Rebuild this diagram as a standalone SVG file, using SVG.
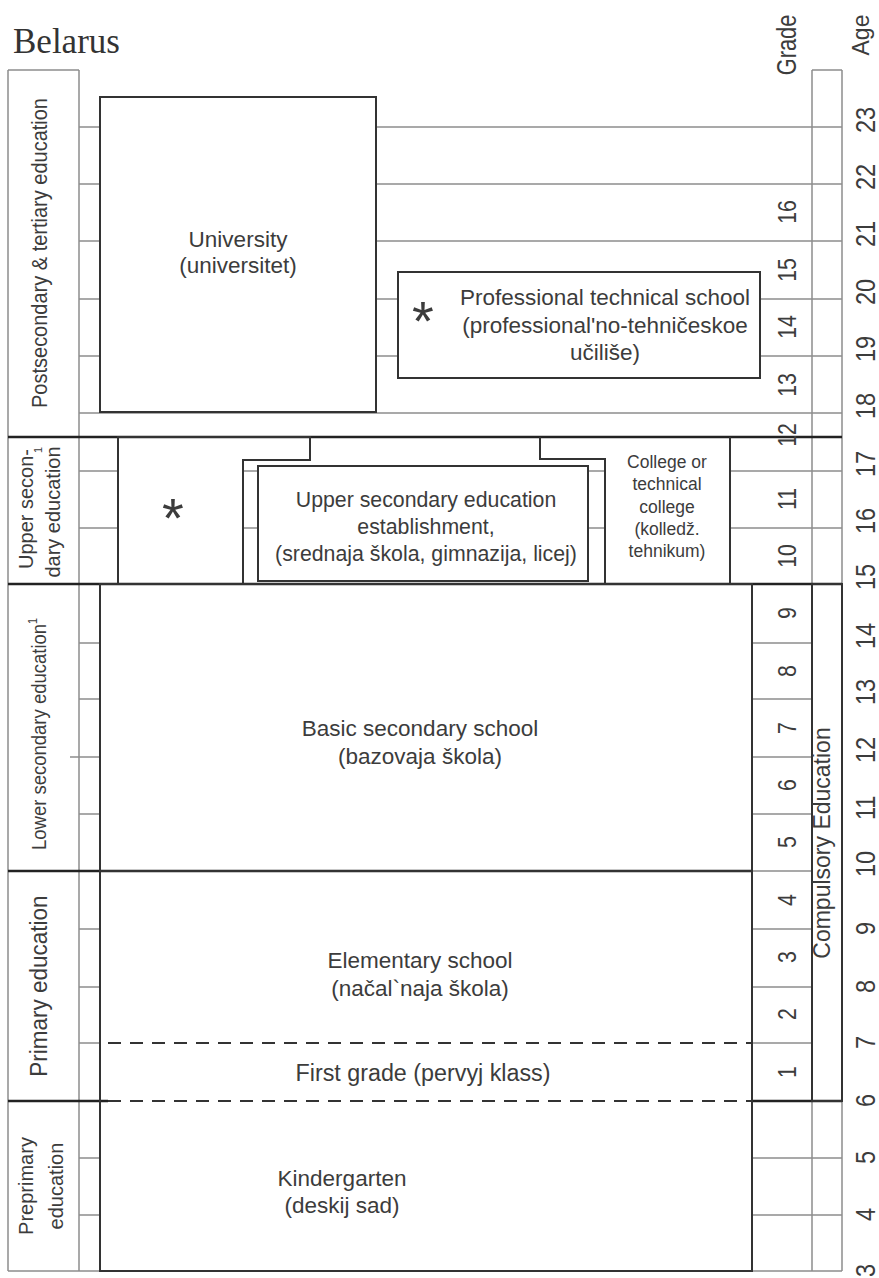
<svg xmlns="http://www.w3.org/2000/svg" width="879" height="1278" viewBox="0 0 879 1278">
  <style>
    .grid { stroke: #8d8d8d; stroke-width: 1.5; fill: none; }
    .box { stroke: #333; stroke-width: 2; fill: none; }
    .sep { stroke: #222; stroke-width: 2.5; fill: none; }
    .dash { stroke: #333; stroke-width: 2; stroke-dasharray: 13 9; fill: none; }
    text { font-family: "Liberation Sans", Arial, sans-serif; fill: #3c3c3c; }
    .main { font-size: 22.5px; text-anchor: middle; }
    .band { font-size: 20px; text-anchor: middle; }
    .grade { font-size: 26px; text-anchor: middle; }
    .age { font-size: 28px; }
    .star { font-size: 56px; text-anchor: middle; }
    .sup { font-size: 11px; }
  </style>
  <rect width="879" height="1278" fill="#fff"/>

  <!-- title -->
  <g id="title">
    <text x="13" y="53" style="font-family:'Liberation Serif','Times New Roman',serif;font-size:35px;fill:#333">Belarus</text>
  </g>

  <!-- year grid: frame columns, age lines and band separators -->
  <g id="connectors">
    <path class="grid" d="M8,70 V1271 M79,70 V1271 M8,70 H79 M8,1271 H100
                          M812,70 V1271 M842,70 V1271 M812,70 H842 M752,1271 H842"/>
    <path class="grid" d="
      M79,127 H100 M376,127 H842
      M79,184 H100 M376,184 H842
      M79,241 H100 M376,241 H842
      M79,299 H100 M376,299 H398 M760,299 H842
      M79,356 H100 M376,356 H398 M760,356 H842
      M79,413 H842
      M79,471 H118 M243,471 H258 M588,471 H605 M730,471 H842
      M79,528 H118 M243,528 H258 M588,528 H605 M730,528 H842
      M79,643 H100 M752,643 H812
      M79,699 H100 M752,699 H812
      M70,757 H100 M752,757 H812
      M79,814 H100 M752,814 H812
      M752,871 H812
      M79,929 H100 M752,929 H812
      M79,987 H100 M752,987 H812
      M79,1043 H100 M752,1043 H812
      M79,1158 H100 M752,1158 H842
      M79,1215 H100 M752,1215 H842"/>
    <path class="sep" d="M8,437 H842 M8,584 H842 M8,871 H752 M8,1101 H108 M752,1101 H842"/>
    <path class="dash" d="M108,1043 H752 M108,1101 H752"/>
  </g>

  <!-- education level labels -->
  <g id="label-postsecondary">
    <text class="band" transform="translate(47,253) rotate(-90) scale(1,1.12)">Postsecondary &amp; tertiary education</text>
  </g>
  <g id="label-upper-secondary">
    <text class="band" transform="translate(33,509) rotate(-90)">Upper secon-</text>
    <text class="band" transform="translate(59.5,512) rotate(-90)">dary education</text>
    <text class="sup" transform="translate(42,453) rotate(-90)">1</text>
  </g>
  <g id="label-lower-secondary">
    <text transform="translate(46,850) rotate(-90) scale(1,1.12)" style="font-size:18.5px">Lower secondary education<tspan class="sup" dy="-8">1</tspan></text>
  </g>
  <g id="label-primary">
    <text class="band" transform="translate(47,986) rotate(-90) scale(1,1.1)" style="font-size:22.5px">Primary education</text>
  </g>
  <g id="label-preprimary">
    <text class="band" transform="translate(32.5,1186) rotate(-90)">Preprimary</text>
    <text class="band" transform="translate(62.5,1186) rotate(-90)">education</text>
  </g>

  <!-- institutions -->
  <g id="university">
    <rect class="box" x="100" y="97" width="276" height="315"/>
    <text class="main" x="238" y="247">University</text>
    <text class="main" x="238" y="273">(universitet)</text>
  </g>
  <g id="professional-technical-school">
    <rect class="box" x="398" y="272" width="362" height="106"/>
    <text class="star" x="423" y="340">*</text>
    <text class="main" x="605" y="305">Professional technical school</text>
    <text class="main" x="605" y="333">(professional'no-tehničeskoe</text>
    <text class="main" x="605" y="360">učiliše)</text>
  </g>
  <g id="vocational-upper-secondary">
    <path class="box" d="M118,584 V437 H310 V460 H243 V584"/>
    <text class="star" x="173" y="537">*</text>
  </g>
  <g id="upper-secondary-establishment">
    <path class="box" d="M540,437 V459 H605 V584"/>
    <rect class="box" x="258" y="466" width="330" height="115"/>
    <text class="main" x="426" y="507" style="font-size:21.3px">Upper secondary education</text>
    <text class="main" x="426" y="534" style="font-size:21.3px">establishment,</text>
    <text class="main" x="426" y="561" style="font-size:21.3px">(srednaja škola, gimnazija, licej)</text>
  </g>
  <g id="college">
    <path class="box" d="M730,437 V584"/>
    <g style="font-size:17.5px;text-anchor:middle">
      <text x="667" y="468">College or</text>
      <text x="667" y="490">technical</text>
      <text x="667" y="513">college</text>
      <text x="667" y="535">(kolledž.</text>
      <text x="667" y="557">tehnikum)</text>
    </g>
  </g>
  <g id="basic-secondary-school">
    <rect class="box" x="100" y="584" width="652" height="287"/>
    <text class="main" x="420" y="736">Basic secondary school</text>
    <text class="main" x="420" y="764">(bazovaja škola)</text>
  </g>
  <g id="elementary-school">
    <path class="box" d="M100,871 V1101 M752,871 V1101"/>
    <text class="main" x="420" y="968">Elementary school</text>
    <text class="main" x="420" y="996">(načal`naja škola)</text>
  </g>
  <g id="first-grade">
    <text class="main" x="423" y="1081" style="font-size:23.3px">First grade (pervyj klass)</text>
  </g>
  <g id="kindergarten">
    <path class="box" d="M100,1101 V1271 H752 V1101"/>
    <text class="main" x="342" y="1186">Kindergarten</text>
    <text class="main" x="342" y="1213">(deskij sad)</text>
  </g>

  <!-- compulsory schooling span -->
  <g id="compulsory-education">
    <rect class="box" x="812" y="584" width="30" height="517"/>
    <text transform="translate(830,843) rotate(-90)" style="font-size:23px;text-anchor:middle">Compulsory Education</text>
  </g>

  <!-- grade scale -->
  <g id="grade-scale">
    <text transform="translate(795.5,45) rotate(-90) scale(0.78,1)" style="font-size:28px;text-anchor:middle">Grade</text>
    <text class="grade" transform="translate(796,212) rotate(-90) scale(0.82,1)">16</text>
    <text class="grade" transform="translate(796,270) rotate(-90) scale(0.82,1)">15</text>
    <text class="grade" transform="translate(796,327) rotate(-90) scale(0.82,1)">14</text>
    <text class="grade" transform="translate(796,385) rotate(-90) scale(0.82,1)">13</text>
    <text class="grade" transform="translate(796,435) rotate(-90) scale(0.82,1)">12</text>
    <text class="grade" transform="translate(796,499) rotate(-90) scale(0.82,1)">11</text>
    <text class="grade" transform="translate(796,556) rotate(-90) scale(0.82,1)">10</text>
    <text class="grade" transform="translate(796,613) rotate(-90) scale(0.82,1)">9</text>
    <text class="grade" transform="translate(796,671) rotate(-90) scale(0.82,1)">8</text>
    <text class="grade" transform="translate(796,728) rotate(-90) scale(0.82,1)">7</text>
    <text class="grade" transform="translate(796,785) rotate(-90) scale(0.82,1)">6</text>
    <text class="grade" transform="translate(796,842) rotate(-90) scale(0.82,1)">5</text>
    <text class="grade" transform="translate(796,900) rotate(-90) scale(0.82,1)">4</text>
    <text class="grade" transform="translate(796,957) rotate(-90) scale(0.82,1)">3</text>
    <text class="grade" transform="translate(796,1014) rotate(-90) scale(0.82,1)">2</text>
    <text class="grade" transform="translate(796,1072) rotate(-90) scale(0.82,1)">1</text>
  </g>

  <!-- age scale -->
  <g id="age-scale">
    <text transform="translate(869,35) rotate(-90)" style="font-size:23px;text-anchor:middle">Age</text>
    <text class="age" transform="translate(874.5,133) rotate(-90) scale(0.84,1)">23</text>
    <text class="age" transform="translate(874.5,190) rotate(-90) scale(0.84,1)">22</text>
    <text class="age" transform="translate(874.5,247) rotate(-90) scale(0.84,1)">21</text>
    <text class="age" transform="translate(874.5,305) rotate(-90) scale(0.84,1)">20</text>
    <text class="age" transform="translate(874.5,362) rotate(-90) scale(0.84,1)">19</text>
    <text class="age" transform="translate(874.5,419) rotate(-90) scale(0.84,1)">18</text>
    <text class="age" transform="translate(874.5,477) rotate(-90) scale(0.84,1)">17</text>
    <text class="age" transform="translate(874.5,534) rotate(-90) scale(0.84,1)">16</text>
    <text class="age" transform="translate(874.5,590) rotate(-90) scale(0.84,1)">15</text>
    <text class="age" transform="translate(874.5,649) rotate(-90) scale(0.84,1)">14</text>
    <text class="age" transform="translate(874.5,705) rotate(-90) scale(0.84,1)">13</text>
    <text class="age" transform="translate(874.5,763) rotate(-90) scale(0.84,1)">12</text>
    <text class="age" transform="translate(874.5,820) rotate(-90) scale(0.84,1)">11</text>
    <text class="age" transform="translate(874.5,877) rotate(-90) scale(0.84,1)">10</text>
    <text class="age" transform="translate(874.5,935) rotate(-90) scale(0.84,1)">9</text>
    <text class="age" transform="translate(874.5,993) rotate(-90) scale(0.84,1)">8</text>
    <text class="age" transform="translate(874.5,1049) rotate(-90) scale(0.84,1)">7</text>
    <text class="age" transform="translate(874.5,1107) rotate(-90) scale(0.84,1)">6</text>
    <text class="age" transform="translate(874.5,1164) rotate(-90) scale(0.84,1)">5</text>
    <text class="age" transform="translate(874.5,1221) rotate(-90) scale(0.84,1)">4</text>
    <text class="age" transform="translate(874.5,1277) rotate(-90) scale(0.84,1)">3</text>
  </g>
</svg>
